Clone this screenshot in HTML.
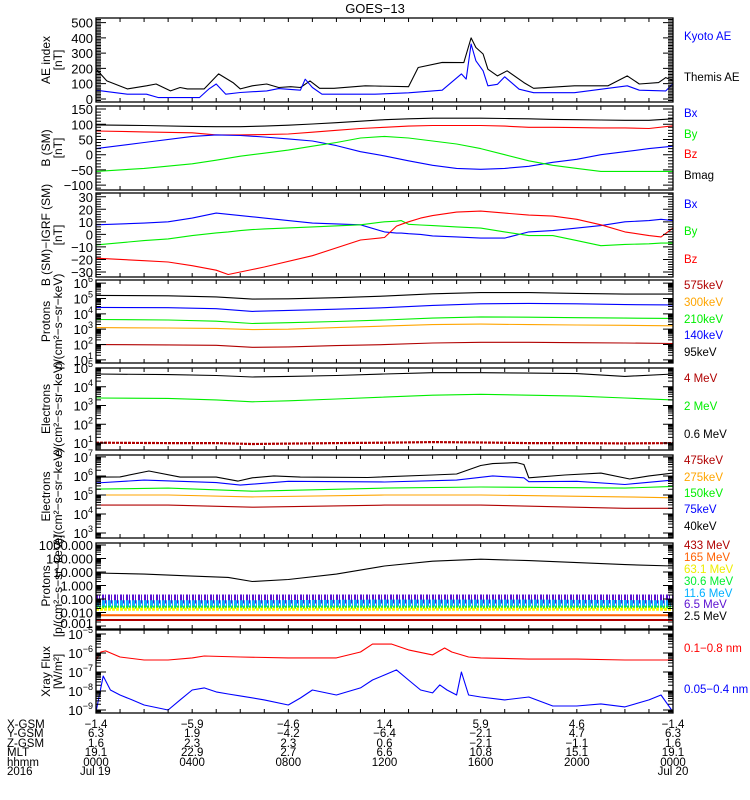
<!DOCTYPE html>
<html><head><meta charset="utf-8"><style>
body{margin:0;background:#fff}
svg{display:block;font-family:"Liberation Sans",sans-serif}
</style></head><body>
<svg id="chart" width="750" height="800" viewBox="0 0 750 800" xmlns="http://www.w3.org/2000/svg">
<text x="375" y="13" text-anchor="middle" font-size="13">GOES−13</text>
</svg>
<script>
// ---- Panel 1: AE index (nT) ----
const aeThemisT = [0,0.45,1.3,2.1,2.5,3.1,3.5,3.8,4.5,5.1,5.7,6.0,6.5,7.1,7.6,8.1,8.5,8.9,9.3,9.9,11.2,11.6,13.0,13.4,14.4,15.3,15.6,15.8,16.1,16.3,16.7,17.1,17.8,18.2,19.9,21.3,22.1,22.6,23.4,23.7,24];
const aeThemisV = [197,118,66,86,98,53,75,66,66,164,107,66,86,98,75,80,75,118,70,70,86,85,80,206,239,238,400,337,294,195,151,184,107,70,86,86,151,98,107,140,120];
const aeKyotoT = [0,1.3,2.1,2.6,4.3,4.7,5.0,5.4,6.0,7.1,7.6,8.5,8.7,9.0,9.4,11.2,11.6,13.0,14.4,15.2,15.4,15.6,15.8,16.1,16.3,16.7,17.0,17.6,18.2,19.9,22.1,22.6,23.7,24];
const aeKyotoV = [57,31,31,9,9,66,98,31,42,53,68,57,129,75,31,31,31,40,57,164,130,360,250,184,86,96,145,64,41,41,86,57,53,100];
// ---- Panel 2: B (SM) nT ----
const bT = [0,2,4,5,6,7,8,9,10,11,12,13,14,15,16,17,18,19,20,21,22,23,24];
const bMag = [98,96,93,92,92,94,97,101,105,110,115,118,120,120,120,119,118,116,115,114,113,113,118];
const bZ = [78,75,72,65,65,66,68,74,80,86,90,94,96,96,96,94,90,90,89,88,88,86,95];
const bX = [20,40,60,65,63,58,52,45,30,10,-4,-20,-35,-45,-48,-45,-38,-25,-15,0,10,20,28];
const bY = [-55,-45,-30,-18,-5,5,15,28,40,55,60,55,45,35,20,0,-20,-35,-45,-55,-55,-55,-55];
// ---- Panel 3: B(SM)-IGRF nT ----
const dT = [0,2,3,4,5,5.5,6,6.5,7,9,11,12,12.5,12.7,13,13.5,14,15,16,17,18,19,20,21,22,23,23.5,24];
const dX = [7.6,9,10,13,17,16,15,14,13,9,7.6,2,1,1,0.5,0,-1.2,-2,-3,-3,2,3,5,7,10,11,12,11];
const dY = [-8.4,-5,-3.6,-1,1.2,2,3,3.8,4.4,6,7.6,10,10.5,11,8,7.5,7,6,5,2,-1,-1,-5,-9,-8,-7.5,-7,-7];
const dZ = [-19,-21,-22,-25,-28.6,-32,-30,-28,-26,-17,-4.5,-2.5,6.6,8,10,13,15,17.8,18.6,17,15.4,14.6,12,7.6,2,-1,-2,5];
// ---- Panel 4: Protons (log10 flux) ----
const p4T = [0,3,5,6.5,8,10,12,14,16,18,20,22,24];
const p4_95 = [5.2,5.17,5.1,4.96,4.98,5.05,5.15,5.3,5.38,5.38,5.33,5.28,5.28];
const p4_140 = [4.42,4.4,4.33,4.16,4.22,4.3,4.4,4.55,4.65,4.68,4.65,4.6,4.58];
const p4_210 = [3.63,3.6,3.52,3.37,3.42,3.5,3.6,3.72,3.8,3.78,3.75,3.72,3.7];
const p4_300 = [3.1,3.08,3.05,2.97,3.0,3.1,3.2,3.3,3.33,3.3,3.27,3.25,3.22];
const p4_575 = [2.0,1.98,1.95,1.82,1.85,1.93,2.0,2.1,2.15,2.15,2.12,2.1,2.07];
// ---- Panel 5: Electrons MeV (log10) ----
const p5T = [0,3,5,6.5,8,10,12,14,16,18,20,22,24];
const p5_06 = [4.68,4.65,4.6,4.52,4.55,4.6,4.68,4.75,4.75,4.73,4.7,4.55,4.68];
const p5_2 = [3.4,3.38,3.3,3.2,3.25,3.35,3.45,3.55,3.6,3.55,3.5,3.4,3.3];
const p5_4 = [1.02,1.0,1.0,0.95,0.97,1.0,1.02,1.05,1.03,1.0,1.0,0.98,1.0];
// ---- Panel 6: Electrons keV (log10) ----
const p6_40T = [0,1,2.2,3.5,5,5.9,6.5,7.4,8.5,11.3,14,15,16,16.5,17.5,17.8,18,19.5,21,22.2,23,24];
const p6_40 = [5.94,5.95,6.26,5.94,5.94,5.73,5.9,6.0,5.94,5.92,6.05,6.1,6.55,6.65,6.7,6.6,5.9,6.05,6.15,5.84,6.0,6.15];
const p6_75T = [0,2,5,6,8,12,15,16.5,17.8,18,20,22,24];
const p6_75 = [5.63,5.78,5.65,5.52,5.72,5.68,5.78,6.0,5.9,5.7,5.72,5.55,5.78];
const p6T = [0,3,6.5,12,16,22,24];
const p6_150 = [5.31,5.36,5.2,5.36,5.42,5.36,5.45];
const p6_275 = [5.0,5.0,4.9,5.0,5.0,4.9,4.85];
const p6_475 = [4.47,4.47,4.36,4.47,4.47,4.3,4.3];
// ---- Panel 7: Protons MeV (log10) ----
const p7_25T = [0,2,4,5.5,6.5,8,10,12,14,16,18,20,22,24];
const p7_25 = [0.93,0.85,0.7,0.6,0.3,0.45,0.85,1.45,1.8,1.95,1.85,1.7,1.55,1.45];
const p7T = [0,6,12,18,24];
const p7_65 = [-1.0,-1.0,-1.0,-1.0,-1.0];
const p7_116 = [-1.35,-1.35,-1.3,-1.3,-1.35];
const p7_306 = [-1.6,-1.6,-1.6,-1.6,-1.6];
const p7_631 = [-1.75,-1.75,-1.75,-1.75,-1.75];
const p7_165 = [-2.2,-2.2,-2.2,-2.2,-2.2];
const p7_433 = [-2.55,-2.55,-2.55,-2.55,-2.55];
// ---- Panel 8: X-ray flux (log10 W/m2) ----
const xrT = [0,0.2,0.4,1,2,3,4,4.5,6,8,10,11,11.5,12.3,13,14,14.5,14.8,15.5,16,18,20,22,24];
const xrLong = [-6.37,-5.95,-5.89,-6.21,-6.37,-6.37,-6.26,-6.16,-6.21,-6.26,-6.26,-5.95,-5.53,-5.53,-5.84,-6.1,-5.74,-5.95,-6.21,-6.26,-6.32,-6.32,-6.37,-6.37];
const xsT = [0,0.3,0.6,1,1.5,2,3,3.5,4,4.5,5,5.5,6,7,8,8.5,9,10,11,11.5,12,12.5,13,13.5,14,14.3,14.6,15,15.2,15.5,16,17,18,19,20,21,22,23,23.5,24];
const xrShort = [-9.1,-7.21,-7.95,-8.21,-8.47,-8.74,-9.0,-8.47,-7.95,-7.84,-8.05,-8.16,-8.26,-8.47,-8.74,-8.37,-7.95,-8.21,-7.84,-7.42,-7.16,-6.89,-7.42,-7.95,-8.1,-7.68,-7.95,-8.21,-7.0,-8.21,-8.32,-8.47,-8.32,-8.79,-8.79,-8.68,-8.84,-8.47,-8.21,-9.1];
// ---- Bottom ephemeris ----
const ephRows = ["X-GSM","Y-GSM","Z-GSM","MLT","hhmm","2016"];
const ephHours = [0,4,8,12,16,20,24];
const ephX = ["−1.4","−5.9","−4.6","1.4","5.9","4.6","−1.4"];
const ephY = ["6.3","1.9","−4.2","−6.4","−2.1","4.7","6.3"];
const ephZ = ["1.6","2.3","2.3","0.6","−2.1","−1.1","1.6"];
const ephMLT = ["19.1","22.9","2.7","6.6","10.8","15.1","19.1"];
const ephHHMM = ["0000","0400","0800","1200","1600","2000","0000"];

const NS = "http://www.w3.org/2000/svg";
const svg = document.getElementById("chart");
const X0 = 96, X1 = 673;
const xs = h => X0 + h / 24 * (X1 - X0);
function mk(tag, attrs, parent) {
  const e = document.createElementNS(NS, tag);
  for (const k in attrs) e.setAttribute(k, attrs[k]);
  (parent || svg).appendChild(e);
  return e;
}
let clipN = 0;
function panel(o) {
  const g = mk("g", {});
  
  
  const ys = v => o.bot - (v - o.min) / (o.max - o.min) * (o.bot - o.top);
  const id = "clip" + (clipN++);
  const cp = mk("clipPath", {id: id}, g);
  mk("rect", {x: X0, y: o.top, width: X1 - X0, height: o.bot - o.top}, cp);
  const sg = mk("g", {"clip-path": "url(#" + id + ")"}, g);
  o.series.forEach(s => {
    const pts = s.t.map((t, i) => xs(t).toFixed(1) + "," + ys(s.v[i]).toFixed(1)).join(" ");
    const at = {points: pts, fill: "none", stroke: s.c, "stroke-width": s.w || 1.1, "stroke-linejoin": "round"};
    if (s.dash) at["stroke-dasharray"] = s.dash;
    const pl = mk("polyline", at, sg);
    
    
  });
  const fr = mk("rect", {x: X0, y: o.top, width: X1 - X0, height: o.bot - o.top, fill: "none", stroke: "#000", "stroke-width": 1.3}, g);
  
  
  let d = "";
  for (let h = 1; h < 24; h++) { const x = xs(h); d += `M${x},${o.top}v4M${x},${o.bot}v-4`; }
  const tickAt = (v, len) => { if (v < o.min || v > o.max) return; const y = ys(v); d += `M${X0},${y}h${len}M${X1},${y}h${-len}`; };
  if (o.log) {
    for (let e = Math.floor(o.min); e <= Math.ceil(o.max); e++) {
      tickAt(e, 10);
      for (let m = 2; m < 10; m++) tickAt(e + Math.log10(m), 5);
    }
  } else {
    for (let v = Math.ceil(o.min / o.minor) * o.minor; v <= o.max; v += o.minor) {
      tickAt(v, Math.abs(v / o.major - Math.round(v / o.major)) < 1e-6 ? 10 : 5);
    }
  }
  mk("path", {d: d, stroke: "#000", "stroke-width": 1, fill: "none"}, g);
  o.labels.forEach((L, i) => {
    const t = mk("text", {x: 93, y: ys(o.labelVals[i]) + 5, "text-anchor": "end", "font-size": 13}, g);
    
    
    if (o.log) {
      t.textContent = "10";
      const sp = mk("tspan", {dy: -6, "font-size": 9}, t);
      sp.textContent = L;
    } else t.textContent = L;
  });
  const cy = (o.top + o.bot) / 2;
  o.title.forEach((s, i) => {
    const t = mk("text", {x: 0, y: 0, transform: `translate(${50 + i * 12},${cy}) rotate(-90)`, "text-anchor": "middle", "font-size": 12}, g);
    
    
    t.textContent = s;
  });
  o.legend.forEach(L => {
    const t = mk("text", {x: 684, y: L[2] + 4, "font-size": 11.5, fill: L[1]}, g);
    
    
    t.textContent = L[0];
  });
}
const DR = "#b00000", OR = "#ffa500", GR = "#00ee00", BL = "#0000ff", RD = "#ff0000";
panel({name: "ae-panel", top: 18, bot: 102, min: -20, max: 530, major: 100, minor: 10,
  labels: ["0","100","200","300","400","500"], labelVals: [0,100,200,300,400,500],
  title: ["AE index", "[nT]"],
  legend: [["Kyoto AE", BL, 36], ["Themis AE", "#000", 77]],
  series: [{n: "themis-ae-line", t: aeThemisT, v: aeThemisV, c: "#000"}, {n: "kyoto-ae-line", t: aeKyotoT, v: aeKyotoV, c: BL}]});
panel({name: "bsm-panel", top: 106, bot: 190, min: -116, max: 160, major: 50, minor: 10,
  labels: ["−100","−50","0","50","100","150"], labelVals: [-100,-50,0,50,100,150],
  title: ["B (SM)", "[nT]"],
  legend: [["Bx", BL, 113], ["By", GR, 134], ["Bz", RD, 154], ["Bmag", "#000", 175]],
  series: [{n: "bmag-line", t: bT, v: bMag, c: "#000"}, {n: "bz-line", t: bT, v: bZ, c: RD}, {n: "bx-line", t: bT, v: bX, c: BL}, {n: "by-line", t: bT, v: bY, c: GR}]});
panel({name: "bigrf-panel", top: 193, bot: 277, min: -34, max: 33, major: 10, minor: 2,
  labels: ["−30","−20","−10","0","10","20","30"], labelVals: [-30,-20,-10,0,10,20,30],
  title: ["B (SM)−IGRF (SM)", "[nT]"],
  legend: [["Bx", BL, 204], ["By", GR, 231], ["Bz", RD, 259]],
  series: [{n: "dbx-line", t: dT, v: dX, c: BL}, {n: "dby-line", t: dT, v: dY, c: GR}, {n: "dbz-line", t: dT, v: dZ, c: RD}]});
panel({name: "protons-kev-panel", top: 280, bot: 363, min: 0.8, max: 6.2, log: true,
  labels: ["1","2","3","4","5","6"], labelVals: [1,2,3,4,5,6],
  title: ["Protons", "p/(cm²−s−sr−keV)"],
  legend: [["575keV", DR, 285], ["300keV", OR, 302], ["210keV", GR, 319], ["140keV", BL, 335], ["95keV", "#000", 352]],
  series: [{n: "p95-line", t: p4T, v: p4_95, c: "#000"}, {n: "p140-line", t: p4T, v: p4_140, c: BL}, {n: "p210-line", t: p4T, v: p4_210, c: GR}, {n: "p300-line", t: p4T, v: p4_300, c: OR}, {n: "p575-line", t: p4T, v: p4_575, c: DR}]});
panel({name: "electrons-mev-panel", top: 368, bot: 450, min: 0.63, max: 5.0, log: true,
  labels: ["1","2","3","4","5"], labelVals: [1,2,3,4,5],
  title: ["Electrons", "e/(cm²−s−sr−keV)"],
  legend: [["4 MeV", DR, 378], ["2 MeV", GR, 406], ["0.6 MeV", "#000", 434]],
  series: [{n: "e06-line", t: p5T, v: p5_06, c: "#000"}, {n: "e2-line", t: p5T, v: p5_2, c: GR}, {n: "e4-line", t: p5T, v: p5_4, c: DR, w: 2.2, dash: "3 1"}]});
panel({name: "electrons-kev-panel", top: 455, bot: 538, min: 2.74, max: 7.1, log: true,
  labels: ["3","4","5","6","7"], labelVals: [3,4,5,6,7],
  title: ["Electrons", "e/(cm²−s−sr−keV)"],
  legend: [["475keV", DR, 460], ["275keV", OR, 477], ["150keV", GR, 493], ["75keV", BL, 509], ["40keV", "#000", 526]],
  series: [{n: "e40-line", t: p6_40T, v: p6_40, c: "#000"}, {n: "e75-line", t: p6_75T, v: p6_75, c: BL}, {n: "e150-line", t: p6T, v: p6_150, c: GR}, {n: "e275-line", t: p6T, v: p6_275, c: OR}, {n: "e475-line", t: p6T, v: p6_475, c: DR}]});
panel({name: "protons-mev-panel", top: 543, bot: 629, min: -3.22, max: 3.15, log: true,
  labels: [], labelVals: [],
  title: ["Protons", "[p/(cm²−s−sr−keV)]"],
  legend: [["433 MeV", DR, 545], ["165 MeV", "#ff6000", 557], ["63.1 MeV", "#eeee00", 569], ["30.6 MeV", "#00ee30", 581], ["11.6 MeV", "#00b0ff", 593], ["6.5 MeV", "#5a10d0", 604], ["2.5 MeV", "#000", 616]],
  series: [{n: "p65-band", t: p7T, v: p7_65, c: "#5a10d0", w: 9, dash: "2 1 1 2"}, {n: "p116-band", t: p7T, v: p7_116, c: "#10b0ff", w: 7, dash: "3 1 1 1"}, {n: "p306-band", t: p7T, v: p7_306, c: "#20ee30", w: 3, dash: "2 1"}, {n: "p631-band", t: p7T, v: p7_631, c: "#ffff00", w: 3, dash: "3 1"}, {n: "p165-band", t: p7T, v: p7_165, c: "#ff6000", w: 2}, {n: "p433-band", t: p7T, v: p7_433, c: DR, w: 2}, {n: "p25-line", t: p7_25T, v: p7_25, c: "#000"}]});
(function(){
  const vals = [-3,-2,-1,0,1,2,3], txt = ["0.001","0.010","0.100","1.000","10.000","100.000","1000.000"];
  vals.forEach((v, i) => {
    const y = 629 - (v + 3.22) / 6.37 * 86;
    const t = mk("text", {x: 93, y: Math.min(y + 5, 628), "text-anchor": "end", "font-size": 13});
    
    
    t.textContent = txt[i];
  });
})();
panel({name: "xray-panel", top: 630, bot: 713, min: -9.16, max: -4.79, log: true,
  labels: ["−9","−8","−7","−6","−5"], labelVals: [-9,-8,-7,-6,-5],
  title: ["Xray Flux", "[W/m²]"],
  legend: [["0.1−0.8 nm", RD, 648], ["0.05−0.4 nm", BL, 689]],
  series: [{n: "xray-long-line", t: xrT, v: xrLong, c: RD}, {n: "xray-short-line", t: xsT, v: xrShort, c: BL}]});
const rowY = [724, 733, 743, 752, 762, 771];
ephRows.forEach((r, i) => {
  const t = mk("text", {x: 7, y: rowY[i] + 4, "font-size": 11.5});
  
  
  t.textContent = r;
});
[ephX, ephY, ephZ, ephMLT, ephHHMM].forEach((arr, r) => {
  arr.forEach((s, i) => {
    const t = mk("text", {x: xs(ephHours[i]), y: rowY[r] + 4, "text-anchor": "middle", "font-size": 11.5});
    
    
    t.textContent = s;
  });
});
const d1 = mk("text", {x: 80, y: 775, "font-size": 11.5});


d1.textContent = "Jul 19";
const d2 = mk("text", {x: xs(24), y: 775, "text-anchor": "middle", "font-size": 11.5});


d2.textContent = "Jul 20";
</script>
</body></html>
